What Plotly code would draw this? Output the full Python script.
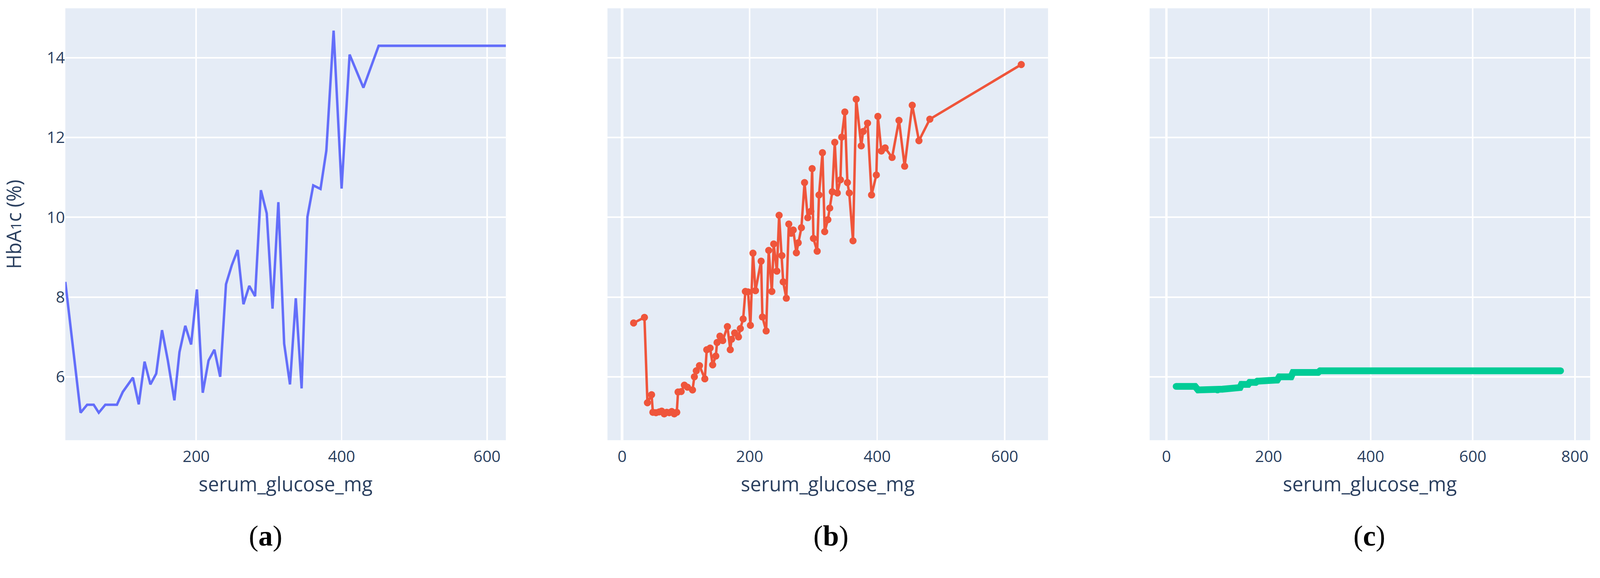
import plotly.graph_objects as go
from plotly.subplots import make_subplots

# (a) line only
glucose_a = [20, 41, 50, 59, 66, 75, 91, 99, 113, 121, 129, 137, 145, 153, 161, 170,
             177, 185, 193, 201, 209, 217, 225, 233, 241, 249, 257, 265, 273, 281,
             289, 297, 305, 313, 321, 329, 337, 345, 353, 361, 371, 379, 389, 400,
             411, 430, 451, 626]
hba1c_a = [8.38, 5.1, 5.3, 5.3, 5.1, 5.3, 5.3, 5.62, 5.98, 5.31, 6.38, 5.81, 6.08, 7.17,
           6.41, 5.41, 6.62, 7.28, 6.81, 8.19, 5.6, 6.41, 6.68, 6.0, 8.32, 8.8, 9.18,
           7.82, 8.28, 8.02, 10.68, 10.1, 7.71, 10.38, 6.83, 5.81, 7.97, 5.71, 10.01,
           10.8, 10.71, 11.67, 14.68, 10.72, 14.08, 13.25, 14.3, 14.3]

# (b) lines + markers
glucose_b = [18, 35, 39.7, 46.2, 48.2, 53.1, 58.1, 62, 66, 69.9, 73.9, 77.8, 81.8, 85.7,
             87.7, 92.6, 97.6, 102.5, 110.4, 113.3, 116.3, 121.3, 129.7, 132.7, 138,
             142, 146.9, 148.9, 153.4, 157.8, 165.1, 169.6, 171.6, 176.5, 182.5, 185.4,
             189.8, 193.3, 197.5, 201.2, 205.2, 209.1, 218, 220, 225.9, 229.9, 234.8,
             237.7, 242.7, 246.2, 250.6, 252.6, 257.5, 261.4, 265, 268.4, 273.3, 276.2,
             281.2, 286.1, 291.1, 296, 298, 300, 305.9, 308.8, 314.2, 317.7, 322.7,
             325.6, 329.6, 333.5, 337.5, 342.4, 344.4, 349.3, 353.3, 356.2, 362.1,
             367.1, 375, 378, 384.9, 391.2, 398.7, 401.1, 406.6, 412.5, 423.4, 434.2,
             443.1, 455, 465.5, 482.6, 626]
hba1c_b = [7.35, 7.49, 5.35, 5.55, 5.11, 5.10, 5.12, 5.14, 5.07, 5.11, 5.10, 5.13, 5.07,
           5.11, 5.62, 5.63, 5.79, 5.74, 5.67, 6.0, 6.15, 6.28, 5.95, 6.68, 6.72, 6.3,
           6.52, 6.86, 7.02, 6.91, 7.26, 6.68, 6.94, 7.1, 7.0, 7.21, 7.45, 8.14, 8.13,
           7.29, 9.1, 8.16, 8.9, 7.5, 7.15, 9.17, 8.14, 9.33, 8.65, 10.05, 9.04, 8.38,
           7.97, 9.83, 9.6, 9.68, 9.11, 9.36, 9.74, 10.87, 9.99, 10.15, 11.22, 9.47,
           9.15, 10.56, 11.62, 9.64, 9.94, 10.23, 10.64, 11.88, 10.61, 10.94, 12.01,
           12.64, 10.87, 10.61, 9.41, 12.96, 11.79, 12.15, 12.36, 10.56, 11.06, 12.53,
           11.66, 11.74, 11.5, 12.43, 11.28, 12.81, 11.92, 12.46, 13.83]

# (c) thick stepped curve
glucose_c = [19, 56, 62, 100, 110, 144, 147, 160, 163, 175, 178, 217, 221, 244, 248,
             297, 301, 772]
hba1c_c = [5.76, 5.76, 5.67, 5.67, 5.69, 5.73, 5.81, 5.81, 5.86, 5.86, 5.89, 5.92,
           6.0, 6.0, 6.11, 6.11, 6.15, 6.15]

panel_labels = ['(<b>a</b>)', '(<b>b</b>)', '(<b>c</b>)']
panel_label_x = [0.1313, 0.502, 0.8551]

W, H = 4237, 1480

fig = make_subplots(rows=1, cols=3, shared_yaxes=True, horizontal_spacing=0.0666)

fig.add_trace(go.Scatter(x=glucose_a, y=hba1c_a, mode='lines',
                         line=dict(color='#636efa', width=6.5)), row=1, col=1)
fig.add_trace(go.Scatter(x=glucose_b, y=hba1c_b, mode='lines+markers',
                         line=dict(color='#EF553B', width=6.5),
                         marker=dict(size=19, color='#EF553B')), row=1, col=2)
fig.add_trace(go.Scatter(x=glucose_c, y=hba1c_c, mode='lines+markers',
                         line=dict(color='#00cc96', width=18),
                         marker=dict(size=18, color='#00cc96')), row=1, col=3)

tick_font = dict(family='Open Sans', size=42, color='#2a3f5f')
title_font = dict(family='Open Sans', size=52, color='#2a3f5f')

x_ranges = [None, [-23, 668], [-33, 830]]
for i in range(3):
    fig.update_xaxes(row=1, col=i + 1, dtick=200, tickfont=tick_font,
                     title=dict(text='serum_glucose_mg', font=title_font, standoff=30),
                     gridcolor='white', gridwidth=4,
                     zeroline=True, zerolinecolor='white', zerolinewidth=7,
                     showline=False, ticks='outside', ticklen=6,
                     tickcolor='rgba(0,0,0,0)')
    if x_ranges[i] is not None:
        fig.update_xaxes(row=1, col=i + 1, range=x_ranges[i])

fig.update_yaxes(range=[4.41, 15.24], dtick=2, tickfont=tick_font,
                 gridcolor='white', gridwidth=4, zeroline=False, ticks='')
fig.update_yaxes(row=1, col=1,
                 title=dict(text='HbA<span style="font-size:38px">1</span>c (%)',
                            font=title_font, standoff=50))

annotations = []
for k in range(3):
    annotations.append(dict(text=panel_labels[k], x=panel_label_x[k], y=-0.222,
                            xref='paper', yref='paper', xanchor='center', yanchor='middle',
                            showarrow=False,
                            font=dict(family='Liberation Serif', size=76, color='black')))

fig.update_layout(width=W, height=H,
                  margin=dict(l=173, r=26, t=22, b=314),
                  showlegend=False,
                  plot_bgcolor='#E5ECF6',
                  paper_bgcolor='white',
                  font=dict(family='Open Sans', color='#2a3f5f'),
                  annotations=list(fig.layout.annotations) + annotations)

# no page margin, and fit the fixed-size figure into the window
fit_page = ("document.body.style.margin='0';"
            "document.body.style.overflow='hidden';"
            "var s=Math.min(window.innerWidth/%d, window.innerHeight/%d);"
            "if(s<1){document.body.style.zoom=s;}" % (W, H))

fig.write_html('out.html', config={'displayModeBar': False}, post_script=fit_page)
